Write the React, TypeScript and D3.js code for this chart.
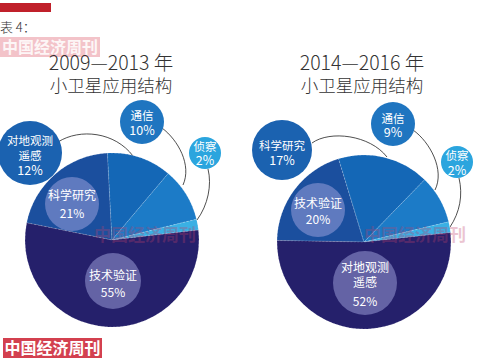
import React, { useEffect, useRef } from "react";
import * as d3 from "d3";

// 2009-2013
const leftLabels = ["科学研究", "对地观测遥感", "通信", "侦察", "技术验证"];
const leftValues = [21, 12, 10, 2, 55];
// 2014-2016
const rightLabels = ["技术验证", "科学研究", "通信", "侦察", "对地观测遥感"];
const rightValues = [20, 17, 9, 2, 52];

const titlesTop = ["2009—2013 年", "2014—2016 年"];
const titleSub = "小卫星应用结构";

const sliceColors = ["#1b4f9e", "#1467b6", "#1c7bc7", "#3ab0e4", "#25206b"];
const outerColors = ["#1b62b0", "#1f75c0", "#2ba5de"];

const FONT = "'Noto Sans CJK SC', 'Noto Sans', sans-serif";
const deg = Math.PI / 180;

// layout per chart: pie, inner label circles, outer bubbles, connectors
const charts = [
  {
    labels: leftLabels,
    values: leftValues,
    cx: 112, cy: 240, r: 87, start: -78.6,
    titleX: 111,
    inner: [
      { i: 0, x: 72, y: 204, r: 27, lines: [["科学研究", 195], ["%", 213]] },
      { i: 4, x: 113, y: 281, r: 28, lines: [["技术验证", 275], ["%", 292]] },
    ],
    outer: [
      { i: 1, x: 30, y: 153, r: 32, c: 0, lines: [["对地观测", 140], ["遥感", 155], ["%", 170]] },
      { i: 2, x: 142, y: 122, r: 22, c: 1, lines: [["通信", 115], ["%", 130]] },
      { i: 3, x: 205, y: 153, r: 16, c: 2, lines: [["侦察", 146], ["%", 160]] },
    ],
    links: [
      "M58,142 C80,128 115,132 133,156",
      "M162,128 C178,140 192,165 183,185",
      "M208,169 C212,185 208,205 197,220",
    ],
  },
  {
    labels: rightLabels,
    values: rightValues,
    cx: 364, cy: 242, r: 87, start: -89,
    titleX: 362,
    inner: [
      { i: 0, x: 318, y: 210, r: 27, lines: [["技术验证", 203], ["%", 219]] },
      { i: 4, x: 365, y: 283, r: 32, lines: [["对地观测", 267], ["遥感", 282], ["%", 301]] },
    ],
    outer: [
      { i: 1, x: 282, y: 150, r: 30, c: 0, lines: [["科学研究", 145], ["%", 160]] },
      { i: 2, x: 393, y: 124, r: 22, c: 1, lines: [["通信", 118], ["%", 132]] },
      { i: 3, x: 457, y: 162, r: 16, c: 2, lines: [["侦察", 155], ["%", 170]] },
    ],
    links: [
      "M312,143 C330,130 370,135 387,157",
      "M413,130 C430,142 445,170 435,190",
      "M459,178 C463,195 460,212 450,227",
    ],
  },
];

function App() {
  const ref = useRef<SVGSVGElement>(null);

  useEffect(() => {
    const svg = d3.select(ref.current);
    svg.selectAll("*").remove();

    svg.append("rect").attr("width", 481).attr("height", 361).attr("fill", "#fff");

    // header
    svg.append("rect").attr("x", 0).attr("y", 3).attr("width", 51).attr("height", 9).attr("fill", "#c0202a");
    svg.append("text").attr("x", 0).attr("y", 32).attr("font-family", FONT).attr("font-size", 13)
      .attr("font-weight", 300).attr("fill", "#333").text("表 4：");
    svg.append("rect").attr("x", 0).attr("y", 37).attr("width", 100).attr("height", 20).attr("fill", "#f3c3c9");
    svg.append("text").attr("x", 50).attr("y", 53).attr("text-anchor", "middle").attr("font-family", FONT)
      .attr("font-size", 16).attr("font-weight", 700).attr("fill", "#fff").attr("opacity", 0.85).text("中国经济周刊");

    charts.forEach((ch, k) => {
      const g = svg.append("g");

      g.append("text").attr("x", ch.titleX).attr("y", 70).attr("text-anchor", "middle")
        .attr("font-family", FONT).attr("font-size", 19.5).attr("font-weight", 300).attr("fill", "#333")
        .text(titlesTop[k]);
      g.append("text").attr("x", ch.titleX).attr("y", 92).attr("text-anchor", "middle")
        .attr("font-family", FONT).attr("font-size", 17.5).attr("font-weight", 300).attr("fill", "#333")
        .text(titleSub);

      // connectors
      g.selectAll("path.link").data(ch.links).join("path")
        .attr("class", "link").attr("d", (d) => d)
        .attr("fill", "none").attr("stroke", "#222").attr("stroke-width", 0.8);

      const pie = d3.pie<number>().sort(null)
        .startAngle(ch.start * deg).endAngle(ch.start * deg + 2 * Math.PI);
      const arc = d3.arc<d3.PieArcDatum<number>>().innerRadius(0).outerRadius(ch.r);

      g.append("g").attr("transform", `translate(${ch.cx},${ch.cy})`)
        .selectAll("path").data(pie(ch.values)).join("path")
        .attr("d", arc)
        .attr("fill", (d, i) => sliceColors[i])
        .attr("stroke", "rgba(255,255,255,0.35)").attr("stroke-width", 0.6)
        .attr("stroke-dasharray", "2,1.5");

      // watermark across the pie
      g.append("text").attr("x", ch.cx + 33 + (k ? 18 : 0)).attr("y", 241).attr("text-anchor", "middle")
        .attr("font-family", FONT).attr("font-size", 17).attr("font-weight", 700)
        .attr("fill", "#c0406a").attr("opacity", 0.3).text("中国经济周刊");

      // inner label discs
      ch.inner.forEach((b) => {
        g.append("circle").attr("cx", b.x).attr("cy", b.y).attr("r", b.r)
          .attr("fill", "#a4a6e0").attr("opacity", 0.5);
        b.lines.forEach(([t, y]) => {
          g.append("text").attr("x", b.x).attr("y", (y as number) + 4.5).attr("text-anchor", "middle")
            .attr("font-family", FONT).attr("font-size", 12).attr("fill", "#fff")
            .text(t === "%" ? `${ch.values[b.i]}%` : (t as string));
        });
      });

      // outer bubbles
      ch.outer.forEach((b) => {
        g.append("circle").attr("cx", b.x).attr("cy", b.y).attr("r", b.r).attr("fill", outerColors[b.c]);
        b.lines.forEach(([t, y]) => {
          g.append("text").attr("x", b.x).attr("y", (y as number) + 4.5).attr("text-anchor", "middle")
            .attr("font-family", FONT).attr("font-size", t === "%" ? 12.5 : 11.5).attr("fill", "#fff")
            .text(t === "%" ? `${ch.values[b.i]}%` : (t as string));
        });
      });
    });

    // bottom watermark
    svg.append("rect").attr("x", 3).attr("y", 338).attr("width", 99).attr("height", 20).attr("fill", "#d3404f");
    svg.append("text").attr("x", 52.5).attr("y", 354).attr("text-anchor", "middle").attr("font-family", FONT)
      .attr("font-size", 16).attr("font-weight", 700).attr("fill", "#fff").text("中国经济周刊");
  }, []);

  return (
    <svg ref={ref} width={481} height={361} style={{ position: "absolute", left: 0, top: 0 }} />
  );
}

export default App;
